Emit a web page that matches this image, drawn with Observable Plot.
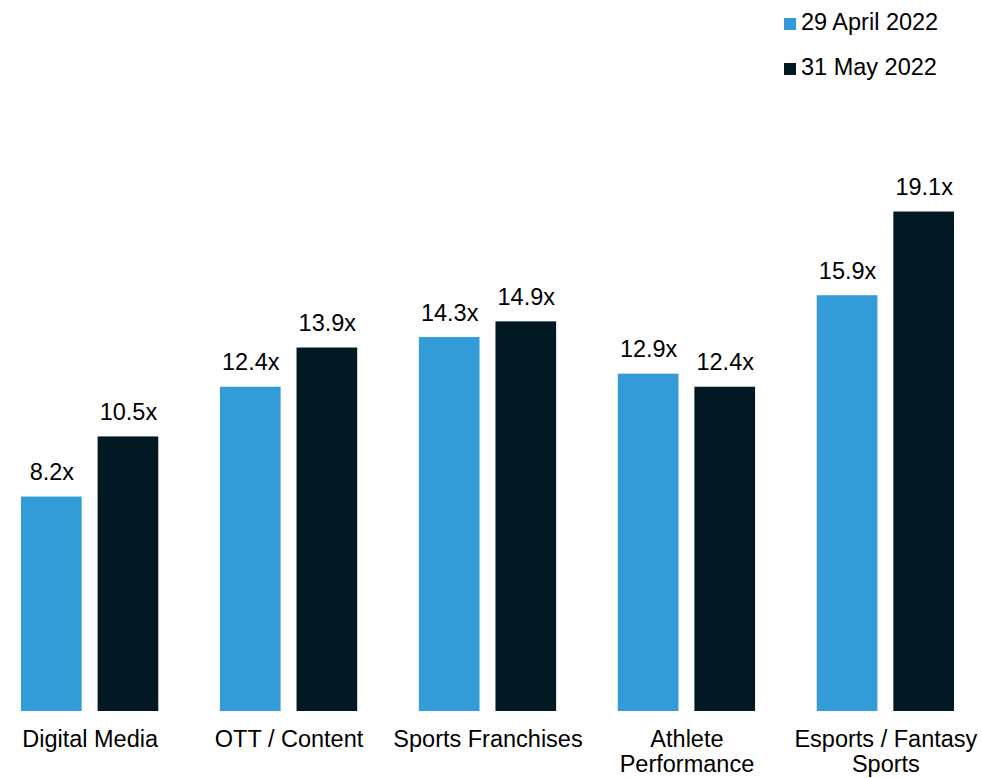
<!DOCTYPE html>
<html>
<head>
<meta charset="utf-8">
<script src="https://cdn.jsdelivr.net/npm/d3@7"></script>
<script src="https://cdn.jsdelivr.net/npm/@observablehq/plot@0.6"></script>
<style>
  html, body { margin: 0; padding: 0; background: #fff; }
  body { font-family: "Liberation Sans", Arial, sans-serif; width: 982px; }
  #legend { position: relative; height: 90px; width: 982px; }
  .sw { position: absolute; width: 12px; height: 12px; }
  .lt { position: absolute; font-size: 23.5px; line-height: 1; color: #000; white-space: nowrap; }
  #chart svg { display: block; }
</style>
</head>
<body>
<div id="legend"></div>
<div id="chart"></div>
<script>
const categories = ["Digital Media", "OTT / Content", "Sports Franchises", "Athlete Performance", "Esports / Fantasy Sports"];
const axisLabels = ["Digital Media", "OTT / Content", "Sports Franchises", "Athlete\nPerformance", "Esports / Fantasy\nSports"];
const series = ["29 April 2022", "31 May 2022"];
const april = [8.2, 12.4, 14.3, 12.9, 15.9];
const may = [10.5, 13.9, 14.9, 12.4, 19.1];
const colors = ["#339bd7", "#021923"];

const data = [];
categories.forEach((c, i) => {
  data.push({category: c, series: series[0], value: april[i]});
  data.push({category: c, series: series[1], value: may[i]});
});
const labelData = categories.map((c, i) => ({category: c, label: axisLabels[i]}));

// Legend (HTML)
const legend = document.getElementById("legend");
const rows = [{sq: 18, txt: 11.4}, {sq: 62.5, txt: 56}];
series.forEach((s, i) => {
  const sw = document.createElement("div");
  sw.className = "sw";
  sw.style.left = "784px";
  sw.style.top = rows[i].sq + "px";
  sw.style.background = colors[i];
  legend.appendChild(sw);
  const t = document.createElement("div");
  t.className = "lt";
  t.style.left = "801px";
  t.style.top = rows[i].txt + "px";
  t.textContent = s;
  legend.appendChild(t);
});

const chart = Plot.plot({
  width: 982,
  height: 688,
  marginLeft: 21,
  marginRight: 28,
  marginTop: 98,
  marginBottom: 67,
  style: {fontFamily: "'Liberation Sans', Arial, sans-serif", fontSize: "23.5px", color: "#000", background: "#fff"},
  fx: {domain: categories, paddingInner: 0.31, paddingOuter: 0, round: false, axis: null},
  x: {domain: series, paddingInner: 0.208, paddingOuter: 0, round: false, axis: null},
  y: {domain: [0, 20], axis: null},
  color: {domain: series, range: colors},
  marks: [
    Plot.barY(data, {fx: "category", x: "series", y: "value", fill: "series"}),
    Plot.text(data, {fx: "category", x: "series", y: "value", text: d => d.value.toFixed(1) + "x", lineAnchor: "bottom", dy: -17, fill: "#000", fontSize: 23.5}),
    Plot.text(labelData, {fx: "category", text: "label", frameAnchor: "bottom", lineAnchor: "top", dy: 18, lineHeight: 1.07, fill: "#000", fontSize: 23.5})
  ]
});
document.getElementById("chart").appendChild(chart);
</script>
</body>
</html>
